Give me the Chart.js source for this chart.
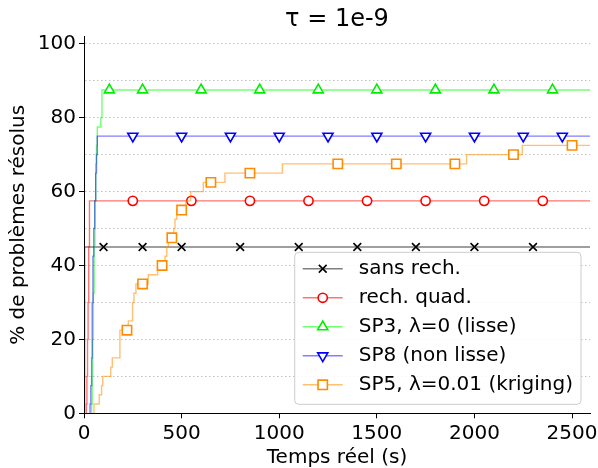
<!DOCTYPE html>
<html lang="fr">
<head>
<meta charset="utf-8">
<title>Profil de performance, τ = 1e-9</title>
<script src="https://cdn.jsdelivr.net/npm/chart.js@4.4.1/dist/chart.umd.min.js"></script>
<style>
  html, body { margin: 0; padding: 0; background: #fff; }
  canvas { display: block; }
</style>
</head>
<body>
<canvas id="profil" width="598" height="468"></canvas>
<script>
// Instants (s) où la proportion de problèmes résolus change, et proportion (%) atteinte à cet instant.
const T_MAX = 2592;

const sansRechTemps = [3, 3, T_MAX];
const sansRechPct   = [0, 45, 45];
const sansRechMarq  = [100, 300, 500, 800, 1100, 1400, 1700, 2000, 2300];

const quadTemps = [12, 12, 15, 18, 21, 24, 28, T_MAX];
const quadPct   = [0, 2.5, 10, 20, 30, 45, 57.5, 57.5];
const quadMarq  = [250, 550, 850, 1150, 1450, 1750, 2050, 2350];

const sp3Temps = [39, 39, 42, 45, 48, 52, 56, 60, 64, 68, 86, 92, T_MAX];
const sp3Pct   = [0, 2.5, 10, 20, 32.5, 45, 57.5, 67.5, 72.5, 77.5, 80, 87.5, 87.5];
const sp3Marq  = [130, 300, 600, 900, 1200, 1500, 1800, 2100, 2400];

const sp8Temps = [31, 31, 35, 39, 42, 46, 50, 55, 60, 64, 68, T_MAX];
const sp8Pct   = [0, 2.5, 7.5, 15, 30, 42.5, 50, 57.5, 65, 70, 75, 75];
const sp8Marq  = [250, 500, 750, 1000, 1250, 1500, 1750, 2000, 2250, 2450];

const sp5Temps = [51, 51, 78, 90, 96, 137, 145, 184, 227, 249, 256, 266, 329, 377, 415, 424, 432, 460, 466, 475, 522, 546, 611, 722, 1016, 1960, 2245, T_MAX];
const sp5Pct   = [0, 2.5, 5, 7.5, 10, 12.5, 15, 22.5, 25, 30, 32.5, 35, 37.5, 40, 42.5, 45, 47.5, 50, 52.5, 55, 57.5, 60, 62.5, 65, 67.5, 70, 72.5, 72.5];
const sp5Marq  = [220, 300, 400, 450, 500, 650, 850, 1300, 1600, 1900, 2200, 2500];

const libelles = ['sans rech.', 'rech. quad.', 'SP3, λ=0 (lisse)', 'SP8 (non lisse)', 'SP5, λ=0.01 (kriging)'];
const graduationsX = [0, 500, 1000, 1500, 2000, 2500];

// Apparence de chaque courbe : trait semi-transparent, marqueurs pleins.
const styles = [
  { line: 'rgba(0,0,0,0.5)',      mark: '#000000', shape: 'crossRot', r: 5.5, rot: 0 },
  { line: 'rgba(255,0,0,0.55)',   mark: '#ff0000', shape: 'circle',   r: 4.6, rot: 0 },
  { line: 'rgba(0,255,0,0.55)',   mark: '#00ee00', shape: 'triangle', r: 5.8, rot: 0 },
  { line: 'rgba(0,0,255,0.5)',    mark: '#0000ff', shape: 'triangle', r: 5.8, rot: 180 },
  { line: 'rgba(255,140,0,0.55)', mark: '#ff8c00', shape: 'rect',     r: 6.6, rot: 0 }
];

const FONT = '"DejaVu Sans", "Liberation Sans", sans-serif';

function niveauA(temps, pct, t) {
  let v = 0;
  for (let i = 0; i < temps.length; i++) if (temps[i] <= t) v = pct[i];
  return v;
}

function points(temps, pct, marques) {
  const pts = temps.map((t, i) => ({ x: t, y: pct[i], m: false }));
  marques.forEach(t => pts.push({ x: t, y: niveauA(temps, pct, t), m: true }));
  pts.sort((a, b) => a.x - b.x);
  return pts;
}

const series = [
  points(sansRechTemps, sansRechPct, sansRechMarq),
  points(quadTemps, quadPct, quadMarq),
  points(sp3Temps, sp3Pct, sp3Marq),
  points(sp8Temps, sp8Pct, sp8Marq),
  points(sp5Temps, sp5Pct, sp5Marq)
];

const datasets = series.map((data, i) => {
  const s = styles[i];
  return {
    label: libelles[i],
    data,
    stepped: true,
    fill: false,
    borderColor: s.line,
    borderWidth: 1.4,
    pointStyle: s.shape,
    pointRotation: s.rot,
    pointRadius: c => (c.raw && c.raw.m ? s.r : 0),
    pointHoverRadius: 0,
    pointBorderColor: s.mark,
    pointBackgroundColor: '#ffffff',
    pointBorderWidth: 1.6,
    order: series.length - i
  };
});

function dessinerMarqueur(ctx, s, x, y) {
  const opts = { pointStyle: s.shape, rotation: s.rot, radius: s.r, borderWidth: 1.6 };
  ctx.fillStyle = '#ffffff';
  ctx.strokeStyle = s.mark;
  ctx.lineWidth = 1.6;
  if (Chart.helpers && Chart.helpers.drawPoint) {
    Chart.helpers.drawPoint(ctx, opts, x, y);
  } else {
    ctx.beginPath();
    ctx.arc(x, y, s.r, 0, Math.PI * 2);
    ctx.fill();
    ctx.stroke();
  }
}

// Légende encadrée, en bas à droite de la zone de tracé.
const legendeCadre = {
  id: 'legendeCadre',
  afterDraw(chart) {
    const { ctx, chartArea } = chart;
    const fs = 20;
    ctx.save();
    ctx.font = fs + 'px ' + FONT;
    const largeurTexte = Math.max(...libelles.map(l => ctx.measureText(l).width));
    const pad = 0.4 * fs, poignee = 2 * fs, ecart = 0.8 * fs, pas = 29;
    const w = pad + poignee + ecart + largeurTexte + pad;
    const h = 152;
    const right = chartArea.right - 9, bottom = chartArea.bottom - 9;
    const left = right - w, top = bottom - h;

    ctx.beginPath();
    if (ctx.roundRect) ctx.roundRect(left, top, w, h, 4); else ctx.rect(left, top, w, h);
    ctx.fillStyle = 'rgba(255,255,255,0.85)';
    ctx.fill();
    ctx.strokeStyle = '#cccccc';
    ctx.lineWidth = 1;
    ctx.stroke();

    libelles.forEach((lib, i) => {
      const s = styles[i];
      const y = top + 16.5 + pas * i;
      const hx = left + pad;
      ctx.beginPath();
      ctx.moveTo(hx, y);
      ctx.lineTo(hx + poignee, y);
      ctx.strokeStyle = s.line;
      ctx.lineWidth = 1.4;
      ctx.stroke();
      dessinerMarqueur(ctx, s, hx + poignee / 2, y);
      ctx.fillStyle = '#000000';
      ctx.textAlign = 'left';
      ctx.textBaseline = 'middle';
      ctx.font = fs + 'px ' + FONT;
      ctx.fillText(lib, hx + poignee + ecart, y);
    });
    ctx.restore();
  }
};

new Chart(document.getElementById('profil'), {
  type: 'line',
  data: { datasets },
  plugins: [legendeCadre],
  options: {
    responsive: false,
    animation: false,
    devicePixelRatio: 1,
    events: [],
    layout: { padding: { left: 0, right: 8, top: 0, bottom: 0 } },
    plugins: {
      legend: { display: false },
      tooltip: { enabled: false },
      title: {
        display: true,
        text: 'τ = 1e-9',
        fullSize: false,
        color: '#000',
        font: { family: FONT, size: 24, weight: 'normal' },
        padding: { top: 5, bottom: 2.6 }
      }
    },
    scales: {
      x: {
        type: 'linear',
        min: 0,
        max: T_MAX,
        afterBuildTicks: sc => { sc.ticks = graduationsX.map(v => ({ value: v })); },
        ticks: {
          color: '#000',
          font: { family: FONT, size: 20 },
          padding: 3,
          maxRotation: 0,
          callback: v => String(v)
        },
        grid: { drawOnChartArea: false, drawTicks: true, tickLength: 5, tickColor: '#000', tickWidth: 1 },
        border: { display: true, color: '#000', width: 1 },
        title: {
          display: true,
          text: 'Temps réel (s)',
          color: '#000',
          font: { family: FONT, size: 20, lineHeight: 1.0 },
          padding: { top: 0, bottom: 0 }
        },
        afterFit: sc => {
          sc.height = 54.7;
          sc.paddingLeft = 0;
          sc.paddingRight = 0;
        }
      },
      y: {
        type: 'linear',
        min: 0,
        max: 102,
        ticks: {
          stepSize: 10,
          includeBounds: false,
          color: '#000',
          font: { family: FONT, size: 20 },
          padding: 3,
          callback: v => (v % 20 === 0 ? String(v) : '')
        },
        grid: {
          color: 'rgba(170,170,170,0.9)',
          lineWidth: 0.8,
          drawTicks: true,
          tickLength: 5,
          tickWidth: 1,
          tickColor: c => (c.tick && c.tick.value % 20 === 0 ? '#000' : 'rgba(0,0,0,0)')
        },
        border: { display: true, color: '#000', width: 1, dash: [1.5, 2.5] },
        title: {
          display: true,
          text: '% de problèmes résolus',
          color: '#000',
          font: { family: FONT, size: 20 },
          padding: { top: 7, bottom: 0 }
        },
        afterFit: sc => {
          sc.width = 84;
          sc.paddingTop = 0;
          sc.paddingBottom = 0;
        }
      }
    }
  }
});
</script>
</body>
</html>
